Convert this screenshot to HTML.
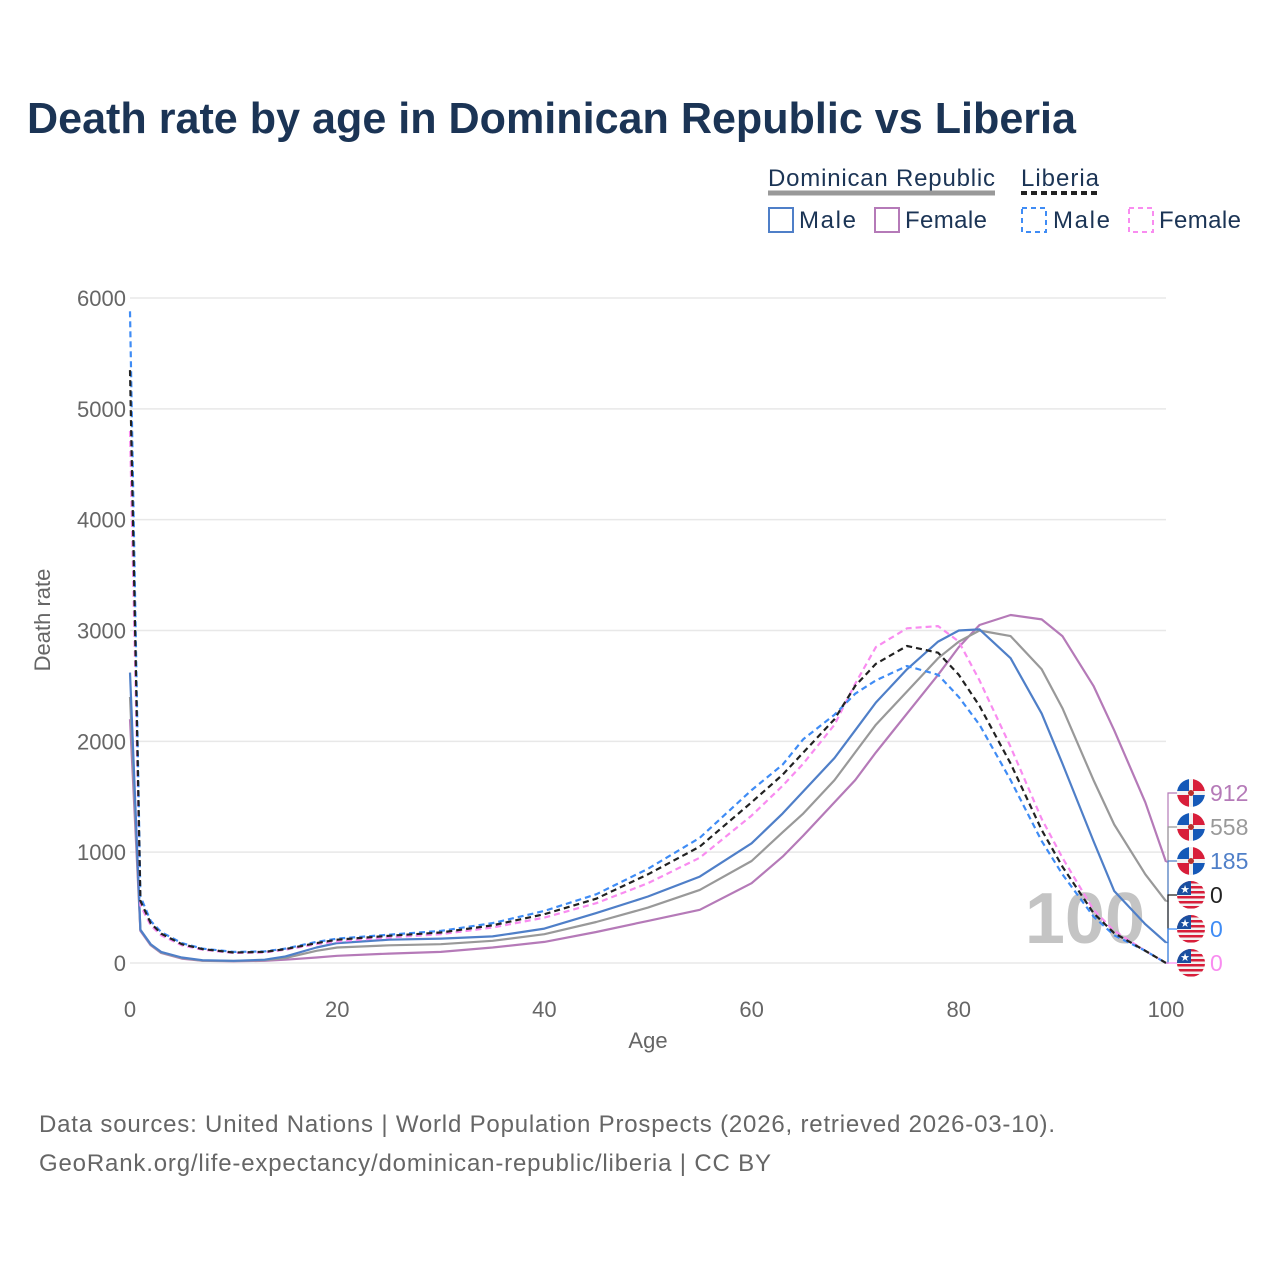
<!DOCTYPE html>
<html><head><meta charset="utf-8"><style>
body{margin:0;background:#fff;font-family:"Liberation Sans",sans-serif;}
svg text{font-family:"Liberation Sans",sans-serif;}
</style></head><body>
<svg id="chart" width="1280" height="1280" xmlns="http://www.w3.org/2000/svg">
<defs><clipPath id="fc"><circle cx="0" cy="0" r="14"/></clipPath></defs>
<text x="27" y="133" font-size="44" font-weight="bold" fill="#1b3455" textLength="1049" lengthAdjust="spacingAndGlyphs">Death rate by age in Dominican Republic vs Liberia</text>
<g font-size="24" fill="#1b3455">
<text x="768" y="186" textLength="227">Dominican Republic</text>
<line x1="768" y1="193" x2="995" y2="193" stroke="#999" stroke-width="5"/>
<text x="1021" y="186" textLength="78">Liberia</text>
<line x1="1021" y1="193" x2="1099" y2="193" stroke="#222" stroke-width="4" stroke-dasharray="6,4"/>
<g><rect x="769" y="208" width="24" height="24" fill="none" stroke="#4f7fc8" stroke-width="2"/><text x="799" y="228" textLength="57">Male</text></g>
<g><rect x="875" y="208" width="24" height="24" fill="none" stroke="#b57ab8" stroke-width="2"/><text x="905" y="228" textLength="82">Female</text></g>
<g><rect x="1022" y="208" width="24" height="24" fill="none" stroke="#3f8cf5" stroke-width="2" stroke-dasharray="5,4"/><text x="1053" y="228" textLength="57">Male</text></g>
<g><rect x="1129" y="208" width="24" height="24" fill="none" stroke="#f98cf0" stroke-width="2" stroke-dasharray="5,4"/><text x="1159" y="228" textLength="82">Female</text></g>
</g>
<g id="grid"></g>
<text x="1145" y="943" font-size="72" font-weight="bold" fill="#c4c4c4" text-anchor="end">100</text>
<g id="lines"></g>
<g id="labels"></g>
<text transform="translate(50,620) rotate(-90)" font-size="22" fill="#666" text-anchor="middle">Death rate</text>
<text x="648" y="1048" font-size="22" fill="#666" text-anchor="middle">Age</text>
<text x="39" y="1132" font-size="24" fill="#666" textLength="1016">Data sources: United Nations | World Population Prospects (2026, retrieved 2026-03-10).</text>
<text x="39" y="1171" font-size="24" fill="#666" textLength="732">GeoRank.org/life-expectancy/dominican-republic/liberia | CC BY</text>
</svg>
<script>
const xTicks=[0,20,40,60,80,100];
const yTicks=[0,1000,2000,3000,4000,5000,6000];
const ages=[0,1,2,3,5,7,10,13,15,18,20,25,30,35,40,45,50,55,60,63,65,68,70,72,75,78,80,82,85,88,90,93,95,98,100];
const lrMale=[5880,600,380,280,180,130,100,105,130,190,220,255,290,360,470,620,850,1130,1560,1790,2020,2240,2430,2550,2680,2600,2400,2150,1650,1100,800,420,250,110,0];
const lrBoth=[5350,560,360,265,170,125,95,100,125,180,210,245,275,340,440,580,800,1050,1450,1700,1900,2200,2500,2700,2860,2800,2600,2320,1800,1200,870,450,270,110,0];
const lrFemale=[4800,520,340,250,160,120,90,95,120,170,195,230,260,320,410,540,720,950,1330,1600,1800,2150,2520,2850,3020,3040,2900,2550,1950,1300,950,480,290,110,0];
const drMale=[2620,300,170,100,50,25,20,30,60,140,180,210,220,240,310,450,600,780,1080,1350,1550,1850,2100,2350,2650,2900,3000,3010,2750,2250,1800,1100,650,350,185];
const drBoth=[2400,300,165,95,45,22,18,25,45,110,140,160,170,200,260,370,500,660,920,1180,1350,1650,1900,2150,2450,2750,2900,3000,2950,2650,2300,1650,1250,800,558];
const drFemale=[2200,290,160,90,40,20,15,20,30,50,65,85,100,140,190,280,380,480,720,960,1150,1450,1650,1900,2250,2600,2850,3050,3140,3100,2950,2500,2100,1450,912];
const endLabels=["912","558","185","0","0","0"];
const NS="http://www.w3.org/2000/svg";
const X=a=>130+a*10.36, Y=v=>963-v*0.11083;
function mk(t,at,parent){const e=document.createElementNS(NS,t);for(const k in at)e.setAttribute(k,at[k]);parent.appendChild(e);return e;}
const grid=document.getElementById('grid');
yTicks.forEach(v=>{
 const l=mk('line',{x1:130,x2:1166,y1:Y(v),y2:Y(v),stroke:'#e8e8e8','stroke-width':1.5},grid);
 
 
 const t=mk('text',{x:126,y:Y(v)+8,'font-size':22,fill:'#666','text-anchor':'end'},grid);
 t.textContent=v;
 
 
});
xTicks.forEach(a=>{
 const t=mk('text',{x:X(a),y:1017,'font-size':22,fill:'#666','text-anchor':'middle'},grid);
 t.textContent=a;
 
 
});
const lines=document.getElementById('lines');
const series=[
 [drFemale,'#b57ab8',null,'line-dr-female'],
 [drBoth,'#999',null,'line-dr-both'],
 [drMale,'#4f7fc8',null,'line-dr-male'],
 [lrFemale,'#f98cf0','6,4','line-lr-female'],
 [lrMale,'#3f8cf5','6,4','line-lr-male'],
 [lrBoth,'#222','6,4','line-lr-both']];
series.forEach(s=>{
 const d=s[0].map((v,i)=>(i?'L':'M')+X(ages[i]).toFixed(1)+','+Y(v).toFixed(1)).join('');
 const at={d:d,fill:'none',stroke:s[1],'stroke-width':2.2,'stroke-linejoin':'round'};
 if(s[2])at['stroke-dasharray']=s[2];
 const p=mk('path',at,lines);
 
 
});
const labels=document.getElementById('labels');
const lcols=['#b57ab8','#999','#4f7fc8','#222','#3f8cf5','#f98cf0'];
const ends=[drFemale,drBoth,drMale,lrBoth,lrMale,lrFemale];
endLabels.forEach((txt,i)=>{
 const cy=793+i*34, isDR=i<3;
 const ey=Y(ends[i][ends[i].length-1]);
 mk('polyline',{points:`${X(100)},${ey} 1168,${ey} 1168,${cy} 1178,${cy}`,fill:'none',stroke:lcols[i],'stroke-width':1.2},labels);
 const g=mk('g',{transform:`translate(1191,${cy})`,'clip-path':'url(#fc)'},labels);
 
 
 if(isDR){
  mk('rect',{x:-14,y:-14,width:28,height:28,fill:'#f2f2f2'},g);
  mk('rect',{x:-14,y:-14,width:12,height:12,fill:'#1559b8'},g);
  mk('rect',{x:2,y:-14,width:12,height:12,fill:'#d81e3a'},g);
  mk('rect',{x:-14,y:2,width:12,height:12,fill:'#d81e3a'},g);
  mk('rect',{x:2,y:2,width:12,height:12,fill:'#1559b8'},g);
  mk('circle',{cx:0,cy:0,r:3,fill:'#b8302c'},g);
 }else{
  mk('rect',{x:-14,y:-14,width:28,height:28,fill:'#f2f2f2'},g);
  for(let k=0;k<6;k++)mk('rect',{x:-14,y:-14+k*5,width:28,height:2.5,fill:'#d81e3a'},g);
  mk('rect',{x:-14,y:-14,width:14,height:14,fill:'#1a4fa0'},g);
  mk('text',{x:-6,y:-2,'font-size':11,fill:'#fff','text-anchor':'middle'},g).textContent='★';
 }
 const t=mk('text',{x:1210,y:cy+8,'font-size':23,fill:lcols[i]},labels);
 t.textContent=txt;
 
 
});
</script>
</body></html>
